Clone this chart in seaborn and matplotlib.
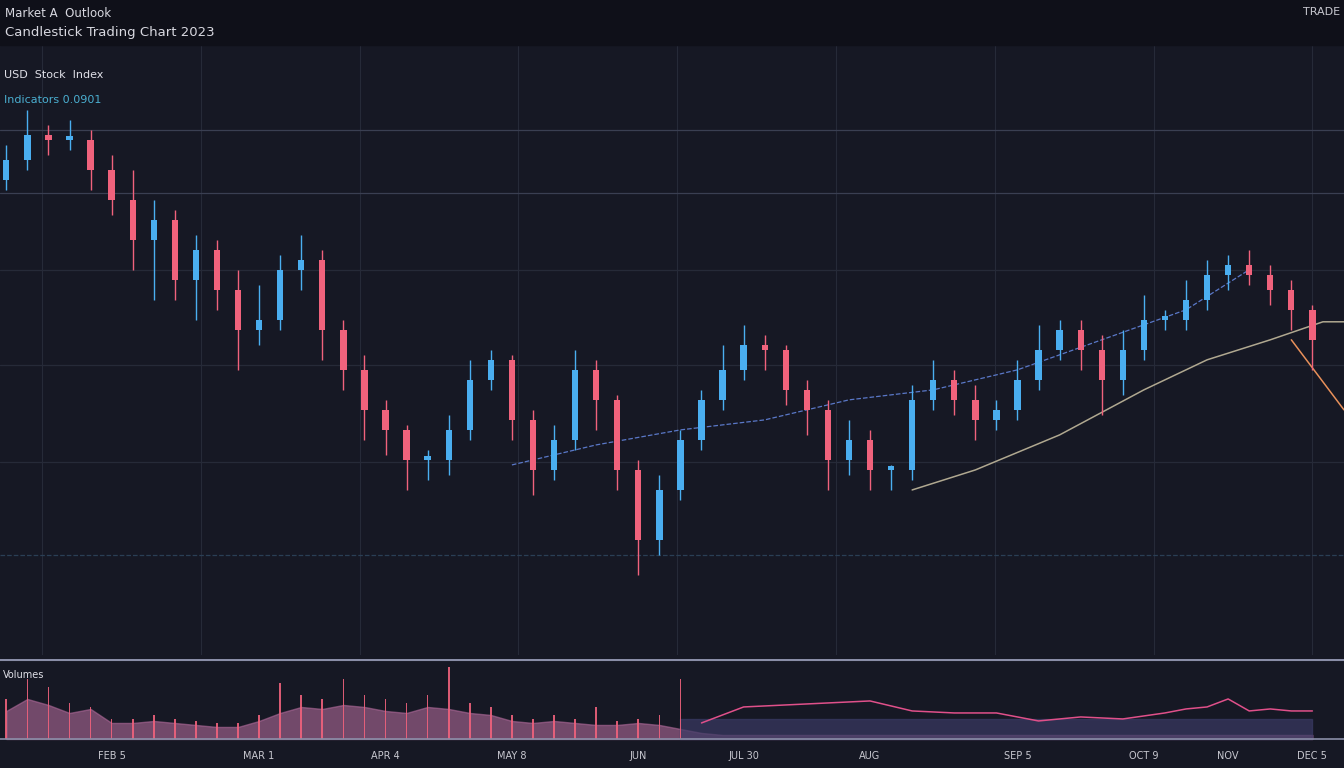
import numpy as np
import pandas as pd
import matplotlib
matplotlib.use("Agg")
import matplotlib.pyplot as plt
import seaborn as sns

# Duomenys (nuskaityti nuo paveikslo)
close = [54, 56.5, 56, 56, 53, 50, 46, 48, 42, 45, 41, 37, 38, 43, 44, 37, 33, 29, 27, 24,
         24, 27, 32, 34, 28, 23, 26, 33, 30, 23, 16, 21, 26, 30, 33, 35.5, 35, 31, 29, 24,
         26, 23, 23, 30, 32, 30, 28, 29, 32, 35, 37, 35, 32, 35, 38, 38, 40, 42.5, 43.5, 42.5,
         41, 39, 36]
wick_up = [1.5, 2.5, 1, 2, 1, 1.5, 3, 2, 1, 1.5, 1, 2, 3.5, 1.5, 2.5, 1, 1, 1.5, 1, 0.5,
           1, 1.5, 2, 1, 0.5, 1, 1.5, 2, 1, 0.5, 1, 1.5, 1, 1, 2.5, 2, 1, 0.5, 1, 1,
           2, 1, 0.5, 1.5, 2, 1, 1.5, 1, 2, 2.5, 1, 1, 1.5, 2, 2.5, 1, 2, 1.5, 1, 1.5,
           1, 1, 0.5]
wick_dn = [1, 1, 1.5, 1, 2, 1.5, 3, 6, 2, 4, 2, 4, 1.5, 1, 2, 3, 2, 3, 2.5, 3,
           2, 1.5, 1, 1, 2, 2.5, 1, 1, 3, 2, 3.5, 1.5, 1, 1, 1, 1, 2, 1.5, 2.5, 3,
           1.5, 2, 2, 1, 1, 1.5, 2, 1, 1, 1, 1, 2, 3.5, 1.5, 1, 1, 1, 1, 1.5, 1,
           1.5, 2, 3]
first_open = 52

ma_fast_x = [24, 28, 32, 36, 40, 44, 48, 52, 56, 59]
ma_fast = [23.5, 25.5, 27, 28, 30, 31, 33, 36, 39, 43]
ma_slow_x = [43, 46, 50, 54, 57, 60, 62.5, 63.5]
ma_slow = [21, 23, 26.5, 31, 34, 36, 37.8, 37.8]
tail_x = [61, 63.5]
tail = [36, 29]

volume = [14, 20, 17, 13, 15, 8, 8, 9, 8, 7, 6, 6, 9, 13, 16, 15, 17, 16, 14, 13,
          16, 15, 13, 12, 9, 8, 9, 8, 7, 7, 8, 7, 5, 3, 2, 2, 2, 2, 2, 2,
          2, 2, 2, 2, 2, 2, 2, 2, 2, 2, 2, 2, 2, 2, 2, 2, 2, 2, 2, 2, 2, 2, 2]
spikes = [20, 30, 26, 18, 16, 10, 10, 12, 10, 9, 8, 8, 12, 28, 22, 20, 30, 22, 20, 18,
          22, 36, 18, 16, 12, 10, 12, 10, 16, 9, 10, 12, 30, 0]
vol_line_x = [33, 35, 37, 39, 41, 43, 45, 47, 49, 51, 53, 55, 56, 57, 58, 59, 60, 61, 62]
vol_line = [8, 16, 17, 18, 19, 14, 13, 13, 9, 11, 10, 13, 15, 16, 20, 14, 15, 14, 14]
vol_base = [10] * 31

tick_pos = [5, 12, 18, 24, 30, 35, 41, 48, 54, 58, 62]
tick_labels = ["FEB 5", "MAR 1", "APR 4", "MAY 8", "JUN", "JUL 30", "AUG", "SEP 5", "OCT 9", "NOV", "DEC 5"]

BG = "#161824"
UP = "#4aaef0"
DN = "#f0627c"

sns.set_style("dark")
plt.rcParams["font.family"] = ["DejaVu Sans"]

n = len(close)
x = np.arange(n)
opens = [first_open] + close[:-1]
df = pd.DataFrame({"x": x, "open": opens, "close": close})
df["high"] = df[["open", "close"]].max(axis=1) + wick_up
df["low"] = df[["open", "close"]].min(axis=1) - wick_dn
df["up"] = df["close"] >= df["open"]

fig = plt.figure(figsize=(13.44, 7.68), dpi=100, facecolor=BG)
# virsutine juosta
fig.patches.append(plt.Rectangle((0, 0.942), 1, 0.058, transform=fig.transFigure,
                                 color="#0f1019", zorder=0))
fig.text(0.004, 0.982, "Market A  Outlook", color="#d8d8e0", fontsize=8.5, va="center")
fig.text(0.004, 0.958, "Candlestick Trading Chart 2023", color="#d8d8e0", fontsize=9.5, va="center")
fig.text(0.997, 0.985, "TRADE", color="#c8c8d0", fontsize=8, ha="right", va="center")

ax = fig.add_axes([0, 0.147, 1, 0.795], facecolor=BG)
xmin, xmax = -0.3, 63.5
ax.set_xlim(xmin, xmax)
ax.set_ylim(4.5, 65.5)
for s in ax.spines.values():
    s.set_visible(False)
ax.set_xticks([]); ax.set_yticks([])
for gx in np.linspace(1.7, 62, 9):
    ax.axvline(gx, color="#262a38", lw=0.8, zorder=0)
for gy, c in [(57, "#3a3f52"), (50.7, "#3a3f52"), (43, "#262a38"), (33.5, "#262a38"),
              (23.8, "#262a38"), (14.5, "#2a3f55")]:
    ax.axhline(gy, color=c, lw=0.9, zorder=0, ls="--" if gy == 14.5 else "-")

for _, r in df.iterrows():
    col = UP if r["up"] else DN
    ax.vlines(r["x"], r["low"], r["high"], color=col, lw=1, zorder=3)
    lo, hi = sorted([r["open"], r["close"]])
    ax.bar(r["x"], max(hi - lo, 0.4), bottom=lo, width=0.3, color=col, linewidth=0, zorder=4)

sns.lineplot(x=ma_fast_x, y=ma_fast, ax=ax, color="#5a78c8", lw=0.9, ls="--", zorder=2)
sns.lineplot(x=ma_slow_x, y=ma_slow, ax=ax, color="#b0a890", lw=1.1, zorder=2)
sns.lineplot(x=tail_x, y=tail, ax=ax, color="#e8905a", lw=1.1, zorder=2)
ax.text(0.003, 0.945, "USD  Stock  Index", transform=ax.transAxes, color="#e0e0e8", fontsize=8)
ax.text(0.003, 0.905, "Indicators 0.0901", transform=ax.transAxes, color="#4aaed0", fontsize=8)

# apimties skydelis
vax = fig.add_axes([0, 0.03, 1, 0.112], facecolor=BG)
vax.set_xlim(xmin, xmax)
vax.set_ylim(-3, 40)
for s in vax.spines.values():
    s.set_visible(False)
vax.axhline(39.5, color="#8a8ea8", lw=1.5)
vax.axhline(0, color="#8a8ea8", lw=1.2)
vax.fill_between(x, 0, volume, color="#b06a9a", alpha=0.6)
vax.fill_between(x[32:], 0, vol_base, color="#3a3a64", alpha=0.7)
vax.bar(x[:34], spikes, width=0.08, color=DN, linewidth=0, alpha=0.9)
sns.lineplot(x=vol_line_x, y=vol_line, ax=vax, color="#e0508a", lw=1.1)
vax.text(0.002, 0.78, "Volumes", transform=vax.transAxes, color="#e0e0e8", fontsize=7)
vax.set_xticks(tick_pos)
vax.set_xticklabels(tick_labels, color="#c8c8d0", fontsize=7)
vax.tick_params(axis="x", length=0, pad=4)
vax.set_yticks([])

fig.savefig("out.png", dpi=100, facecolor=BG)
